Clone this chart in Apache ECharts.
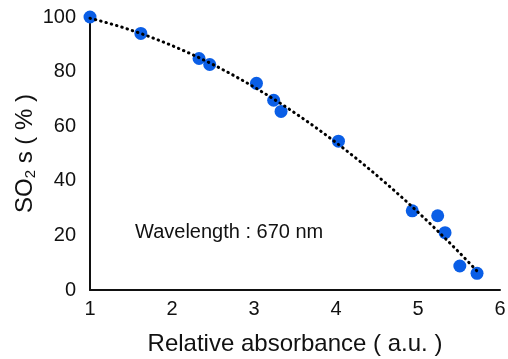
<!DOCTYPE html>
<html><head><meta charset="utf-8">
<script src="https://cdn.jsdelivr.net/npm/echarts@6/dist/echarts.min.js"></script>
<style>html,body{margin:0;padding:0;background:#fff}#c{width:508px;height:359px}</style>
</head><body><div id="c"></div>
<script>
const absorbance = [1.00, 1.62, 2.33, 2.46, 3.03, 3.24, 3.33, 4.03, 4.93, 5.24, 5.33, 5.51, 5.72];
const so2 = [100, 94, 84.8, 82.6, 75.7, 69.5, 65.4, 54.5, 29, 27.2, 21, 8.8, 6.1];
const xTicks = [1, 2, 3, 4, 5, 6];
const yTicks = [0, 20, 40, 60, 80, 100];
const annotation = 'Wavelength : 670 nm';

// quadratic least-squares trendline from the data
function quadFit(xs, ys) {
  let S = [0,0,0,0,0], T = [0,0,0];
  for (let i = 0; i < xs.length; i++) {
    let p = 1;
    for (let k = 0; k < 5; k++) { S[k] += p; if (k < 3) T[k] += p * ys[i]; p *= xs[i]; }
  }
  const A = [[S[0],S[1],S[2],T[0]],[S[1],S[2],S[3],T[1]],[S[2],S[3],S[4],T[2]]];
  for (let i = 0; i < 3; i++) {
    for (let j = i + 1; j < 3; j++) {
      const f = A[j][i] / A[i][i];
      for (let k = i; k < 4; k++) A[j][k] -= f * A[i][k];
    }
  }
  const c = [0,0,0];
  for (let i = 2; i >= 0; i--) {
    let s = A[i][3];
    for (let k = i + 1; k < 3; k++) s -= A[i][k] * c[k];
    c[i] = s / A[i][i];
  }
  return c;
}
const coef = quadFit(absorbance, so2);
const xmin = Math.min(...absorbance), xmax = Math.max(...absorbance);
const trend = [];
for (let i = 0; i <= 60; i++) {
  const x = xmin + (xmax - xmin) * i / 60;
  trend.push([x, coef[0] + coef[1] * x + coef[2] * x * x]);
}

const chart = echarts.init(document.getElementById('c'));
const font = 'Liberation Sans, Arial, sans-serif';
chart.setOption({
  animation: false,
  grid: { left: 90, right: 8, top: 17, bottom: 69, containLabel: false, outerBoundsMode: 'none' },
  xAxis: {
    type: 'value', min: xTicks[0], max: xTicks[xTicks.length - 1], interval: 1,
    name: 'Relative absorbance ( a.u. )', nameLocation: 'middle', nameGap: 42,
    nameTextStyle: { fontSize: 24, color: '#111', fontFamily: font },
    axisLine: { lineStyle: { color: '#111', width: 2 } },
    axisTick: { show: false }, splitLine: { show: false },
    axisLabel: { fontSize: 20, color: '#111', fontFamily: font, margin: 9 }
  },
  yAxis: {
    type: 'value', min: yTicks[0], max: yTicks[yTicks.length - 1], interval: 20,
    name: 'SO{sub|2} s ( % )', nameLocation: 'middle', nameGap: 52, nameRotate: 90,
    nameMoveOverlap: false,
    nameTextStyle: { fontSize: 24, color: '#111', fontFamily: font,
      rich: { sub: { fontSize: 15, color: '#111', fontFamily: font, verticalAlign: 'bottom', padding: [10, 0, 0, 0] } } },
    axisLine: { show: true, lineStyle: { color: '#111', width: 2 } },
    axisTick: { show: false }, splitLine: { show: false },
    axisLabel: { fontSize: 20, color: '#111', fontFamily: font, margin: 14 }
  },
  graphic: [{ type: 'text', left: 135, top: 222, style: { text: annotation, fontSize: 20, fill: '#111', fontFamily: font } }],
  series: [
    { type: 'line', data: trend, symbol: 'none', smooth: false, z: 3,
      lineStyle: { color: '#000', width: 3, type: [0.5, 5], cap: 'round' } },
    { type: 'scatter', data: absorbance.map((x, i) => [x, so2[i]]), symbolSize: 13, z: 2,
      itemStyle: { color: '#0a5ee6', opacity: 1 } }
  ]
});
</script></body></html>
